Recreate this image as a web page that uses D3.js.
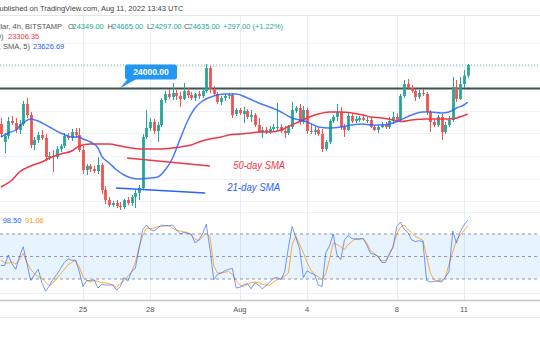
<!DOCTYPE html>
<html><head><meta charset="utf-8">
<script src="https://cdn.jsdelivr.net/npm/d3@7"></script>
<style>html,body{margin:0;padding:0;background:#fff;overflow:hidden}svg{display:block}text{font-family:"Liberation Sans",Arial,sans-serif}</style>
</head><body><svg id="c" width="540" height="340"></svg>
<script>
// ---- data (BTC/USD 4h, Bitstamp, Jul 21 - Aug 11 2022) ----
const opens = [23034,22545,22708,23116,23061,22871,23034,23578,23279,22463,
22599,22735,22654,22137,22164,22137,22354,22436,22708,22654,
22817,22735,22327,21783,21892,21810,21756,21919,21239,20967,
20831,20886,20804,20777,20967,20886,21049,21157,21294,22681,
22926,23089,22844,23007,23687,23850,23769,23877,23796,23714,
23932,23823,23741,23850,23796,23932,24557,23986,23850,23633,
23741,23796,23823,23306,23415,23306,23388,23225,23279,23007,
22817,22871,22817,22898,22926,22953,22844,22789,22953,23388,
23469,23089,23415,22844,22817,22871,22762,22354,22545,23116,
23225,23361,22953,22871,23252,23116,23143,23197,23116,23143,
22953,22871,22953,23007,22953,23116,23225,23143,23796,24122,
24014,23932,23769,23877,23850,23361,23089,23007,23225,22817,
23007,23143,24041,23714,24122,24349];
const highs = [23197,22789,23225,23252,23197,23143,23660,23741,23361,22681,
22817,22871,22762,22273,22327,22436,22490,22789,22789,22898,
22926,22926,22436,21946,21946,21892,22137,21973,21348,21049,
20940,20967,20913,20994,21049,21103,21239,21375,22762,23415,
23197,23170,23089,23741,23932,23986,24150,23959,23905,24150,
24014,23905,23877,23932,24014,24668,24612,24068,23905,23796,
23850,23877,23877,23469,23469,23497,23442,23415,23333,23197,
22953,22953,22980,23034,23605,23034,22980,23007,23633,23524,
23578,23524,23469,23034,22953,22926,22898,22599,23170,23279,
23578,23497,23034,23333,23333,23252,23252,23279,23225,23225,
23007,23007,23089,23089,23225,23361,23333,23850,24231,24258,
24095,23986,23959,23986,23905,23415,23170,23279,23306,23089,
23252,24313,24231,24313,24503,24665];
const lows = [22681,22246,22626,23007,22789,22762,22980,23197,22381,22327,
22518,22599,22028,22055,21729,22082,22273,22381,22599,22572,
22654,22273,21674,21647,21729,21702,21674,21130,20858,20777,
20777,20750,20695,20722,20831,20804,20750,20967,21239,22626,
22844,22762,22545,22953,23605,23714,23687,23687,23497,23687,
23741,23687,23660,23714,23741,23877,23877,23796,23578,23551,
23660,23714,23197,23252,23279,23061,23170,23089,22953,22789,
22654,22762,22762,22844,22844,22789,22654,22735,22898,23333,
23007,23034,22762,22762,22735,22708,22273,22300,22490,23061,
23116,22871,22681,22844,23061,23061,23089,23116,23061,22926,
22844,22789,22926,22898,22898,23034,23089,23116,23741,23959,
23877,23660,23714,23796,23279,22817,22953,22953,22599,22762,
22953,23089,23633,23687,24014,24297];
const closes = [22762,22708,23116,23061,22871,23034,23578,23279,22463,22599,
22735,22654,22137,22164,22137,22354,22436,22708,22654,22817,
22735,22327,21783,21892,21810,21756,21919,21239,20967,20831,
20886,20804,20777,20967,20886,21049,21157,21294,22681,22926,
23089,22844,23007,23687,23850,23769,23877,23796,23714,23932,
23823,23741,23850,23796,23932,24557,23986,23850,23633,23741,
23796,23823,23279,23415,23333,23388,23225,23279,23007,22817,
22871,22817,22898,22953,22953,22844,22789,22953,23415,23469,
23089,23415,22844,22817,22871,22762,22354,22545,23116,23225,
23361,22953,22871,23252,23116,23170,23197,23143,23143,22953,
22871,22953,23007,22953,23116,23225,23143,23796,24122,24014,
23932,23769,23877,23850,23361,23089,23007,23225,22817,23007,
23143,24041,23714,24122,24349,24635];

// 21 SMA (blue) and 50 SMA (red), read at candle indices
const sma21Idx = [0,2,4,6,8,10,13,16,18,19,21,22,24,26,27,29,31,33,35,37,40,42,44,46,48,50,52,54,57,60,63,66,69,74,78,82,85,88,91,94,97,99,102,105,107,110,113,115,118,120,122,124,125];
const sma21Val = [22681,22790,22871,23062,23170,23116,22953,22790,22708,22681,22681,22626,22545,22382,22164,21974,21784,21647,21566,21538,21566,21593,21783,22110,22626,23116,23469,23660,23796,23850,23850,23742,23606,23415,23198,23089,22953,22926,22953,23007,23034,23007,23007,23062,23143,23279,23361,23361,23334,23361,23470,23551,23627];
const sma50Idx = [0,3,5,8,11,13,16,19,21,24,27,29,32,35,37,43,48,51,53,56,59,61,64,67,69,72,75,77,80,83,85,88,91,94,97,99,102,105,107,110,114,118,120,122,125];
const sma50Val = [21321,21511,21729,21892,22001,22110,22218,22300,22436,22490,22490,22490,22436,22382,22354,22354,22409,22463,22545,22626,22681,22735,22762,22790,22817,22817,22871,22966,23102,23238,23306,23361,23361,23334,23279,23225,23198,23143,23102,23143,23170,23170,23170,23198,23306];

// Stochastic RSI %K (blue) and %D (orange), one per candle
const stochK = [38,38,52,40,33,50,63,40,18,26,
33,15,4,11,20,26,34,42,47,45,
45,30,10,18,18,19,8,13,12,12,
12,5,10,22,17,30,34,60,86,92,
86,84,88,92,91,91,92,86,80,82,
81,80,68,72,80,93,60,19,26,28,
31,33,34,8,9,12,14,7,15,12,
7,11,16,21,22,19,30,62,90,75,
60,22,31,28,26,12,10,55,64,80,
52,46,72,78,74,73,73,74,65,54,
53,50,42,42,54,62,90,96,86,82,
72,70,71,70,18,16,17,17,16,22,
30,84,68,83,92,98.5];
const stochD = [45,42,41,43,40,46,54,42,33,27,
23,21,16,11,15,21,27,33,39,42,
45,36,23,18,16,18,17,15,15,14,
12,9,14,18,24,29,42,62,78,88,
87,88,90,90,91,91,88,85,84,83,
82,78,73,71,76,81,76,38,28,28,
29,30,26,18,12,10,13,15,16,15,
13,12,12,16,19,21,24,28,66,77,
66,55,42,32,26,23,19,27,46,68,
66,63,59,66,70,74,74,74,68,58,
54,50,44,45,51,64,80,89,92,86,
82,77,74,72,50,28,19,18,18,22,
40,56,72,79,84,91.06];
const stochLevels = [80,50,20];

const dayLabels = ["25","28","Aug","4","8","11"];
const dayIdx = [22,40,64,82,106,124];

const levelPrice = 24000;
const levelLabel = "24000.00";
const sma50Label = "50-day SMA", sma21Label = "21-day SMA";
// hand-drawn trend-line labels (index, price)
const sma50Drawn = [[33.8,22110],[56,21892]];
const sma21Drawn = [[30.8,21294],[54.7,21157]];
const sma50TextAt = [62.2,21800];
const sma21TextAt = [60.6,21200];
const calloutAt = [31.9,24000];

const headerText = "Published on TradingView.com, Aug 11, 2022 13:43 UTC";
const symbolText = "Bitcoin / U.S. Dollar, 4h, BITSTAMP";
const ohlcLabels = ["O","H","L","C"];
const ohlcValues = ["24349.00","24665.00","24297.00","24635.00"];
const changeText = "+297.00 (+1.22%)";
const sma50Legend = ["SMA (50, close, 0)","23306.35"];
const sma21Legend = ["SMA (21, close, SMA, 5)","23626.69"];
const stochLegend = ["98.50","91.06"];

// ---- drawing ----
const svg = d3.select("#c");
const GREEN="#26a69a", RED="#ef5350", BLUE="#2962ff", SRED="#f23645", ORANGE="#ff9800";
const x = d3.scaleLinear().domain([0,125]).range([0.83,467.7]);
const y = d3.scaleLinear().domain([20500,25000]).range([217.2,51.7]);
const ys = d3.scaleLinear().domain([0,100]).range([294,219]);

svg.append("rect").attr("width",540).attr("height",340).attr("fill","#fff");

// price grid
const gridStep = 612;
const gridLevels = d3.range(-6,3).map(k=>levelPrice+k*gridStep).filter(p=>y(p)>18 && y(p)<210);
svg.selectAll(".hg").data(gridLevels).enter().append("line")
  .attr("x1",0).attr("x2",540).attr("y1",d=>Math.round(y(d))+0.5).attr("y2",d=>Math.round(y(d))+0.5)
  .attr("stroke","#eef1f6").attr("stroke-width",1);
// day grid
svg.selectAll(".vg").data(dayIdx).enter().append("line")
  .attr("x1",d=>Math.round(x(d))+0.5).attr("x2",d=>Math.round(x(d))+0.5).attr("y1",15).attr("y2",300)
  .attr("stroke","#e9eef4").attr("stroke-width",1);
// separators
svg.append("line").attr("x1",0).attr("x2",540).attr("y1",15.5).attr("y2",15.5).attr("stroke","#e3e6ec");
svg.append("line").attr("x1",0).attr("x2",540).attr("y1",212.5).attr("y2",212.5).attr("stroke","#eceff3");

// stoch pane band and levels
svg.append("rect").attr("x",0).attr("width",540).attr("y",ys(80)).attr("height",ys(20)-ys(80))
  .attr("fill","rgba(33,150,243,0.11)");
svg.selectAll(".sl").data(stochLevels).enter().append("line")
  .attr("x1",0).attr("x2",540).attr("y1",d=>ys(d)).attr("y2",d=>ys(d))
  .attr("stroke","#9598a1").attr("stroke-width",1).attr("stroke-dasharray","3,3");
svg.append("line").attr("x1",0).attr("x2",540).attr("y1",ys(0)-0.5).attr("y2",ys(0)-0.5).attr("stroke","#eef0f4");
svg.append("line").attr("x1",0).attr("x2",540).attr("y1",300.5).attr("y2",300.5).attr("stroke","#c3c6cc").attr("stroke-width",1.6);
svg.append("line").attr("x1",0).attr("x2",540).attr("y1",317.5).attr("y2",317.5).attr("stroke","#e6e8ec");

// day labels
svg.selectAll(".dl").data(dayIdx).enter().append("text")
  .attr("x",d=>x(d)).attr("y",312).attr("text-anchor","middle")
  .attr("font-size",7.5).attr("fill","#50535e").text((d,i)=>dayLabels[i]);

// 24000 level line
svg.append("line").attr("x1",0).attr("x2",540).attr("y1",y(levelPrice)).attr("y2",y(levelPrice))
  .attr("stroke","#3e5450").attr("stroke-width",2);
// last price dotted line
svg.append("line").attr("x1",0).attr("x2",540).attr("y1",y(closes[closes.length-1])).attr("y2",y(closes[closes.length-1]))
  .attr("stroke",GREEN).attr("stroke-width",1).attr("stroke-dasharray","1,2").attr("opacity",0.7);

// candles
const idx = d3.range(closes.length);
const cg = svg.append("g");
cg.selectAll(".w").data(idx).enter().append("line")
  .attr("x1",i=>Math.round(x(i))+0.5).attr("x2",i=>Math.round(x(i))+0.5)
  .attr("y1",i=>y(highs[i])).attr("y2",i=>y(lows[i]))
  .attr("stroke",i=>closes[i]>=opens[i]?GREEN:RED).attr("stroke-width",1);
cg.selectAll(".b").data(idx).enter().append("rect")
  .attr("x",i=>Math.round(x(i))+0.5-1.4).attr("width",2.8)
  .attr("y",i=>y(Math.max(opens[i],closes[i])))
  .attr("height",i=>Math.max(1,Math.abs(y(opens[i])-y(closes[i]))))
  .attr("fill",i=>closes[i]>=opens[i]?GREEN:RED);

// SMAs
const lineGen = d3.line().x(d=>x(d[0])).y(d=>y(d[1])).curve(d3.curveMonotoneX);
svg.append("path").attr("d",lineGen(sma50Idx.map((d,i)=>[d,sma50Val[i]])))
  .attr("fill","none").attr("stroke",SRED).attr("stroke-width",1.5);
svg.append("path").attr("d",lineGen(sma21Idx.map((d,i)=>[d,sma21Val[i]])))
  .attr("fill","none").attr("stroke",BLUE).attr("stroke-width",1.5).attr("opacity",0.85);

// drawn trend-line labels
svg.append("line").attr("x1",x(sma50Drawn[0][0])).attr("y1",y(sma50Drawn[0][1]))
  .attr("x2",x(sma50Drawn[1][0])).attr("y2",y(sma50Drawn[1][1])).attr("stroke",SRED).attr("stroke-width",1.5);
svg.append("line").attr("x1",x(sma21Drawn[0][0])).attr("y1",y(sma21Drawn[0][1]))
  .attr("x2",x(sma21Drawn[1][0])).attr("y2",y(sma21Drawn[1][1])).attr("stroke",BLUE).attr("stroke-width",1.5);
svg.append("text").attr("x",x(sma50TextAt[0])).attr("y",y(sma50TextAt[1])).attr("font-size",10)
  .attr("font-style","italic").attr("fill",SRED).attr("textLength",52).attr("lengthAdjust","spacingAndGlyphs").text(sma50Label);
svg.append("text").attr("x",x(sma21TextAt[0])).attr("y",y(sma21TextAt[1])).attr("font-size",10)
  .attr("font-style","italic").attr("fill",BLUE).attr("textLength",53).attr("lengthAdjust","spacingAndGlyphs").text(sma21Label);

// callout
const ax = x(calloutAt[0]), ay = y(calloutAt[1]);
const cgp = svg.append("g");
cgp.append("path").attr("d",`M${ax},${ay} L${ax+8},${ay-10} L${ax+17},${ay-10} Z`).attr("fill","#2196f3");
cgp.append("rect").attr("x",ax+5).attr("y",ay-24).attr("width",52).attr("height",15).attr("rx",2.5).attr("fill","#2196f3");
cgp.append("text").attr("x",ax+31).attr("y",ay-13.5).attr("text-anchor","middle").attr("font-size",8.5)
  .attr("font-weight","bold").attr("fill","#fff").text(levelLabel);

// stoch lines
const sLine = d3.line().x((d,i)=>x(i)).y(d=>ys(d));
svg.append("path").attr("d",sLine(stochD)).attr("fill","none").attr("stroke",ORANGE).attr("stroke-width",1).attr("opacity",0.8);
svg.append("path").attr("d",sLine(stochK)).attr("fill","none").attr("stroke",BLUE).attr("stroke-width",1).attr("opacity",0.65);

// header & legends
svg.append("text").attr("x",-5.5).attr("y",11).attr("font-size",7.6).attr("fill","#444")
  .attr("textLength",189).attr("lengthAdjust","spacingAndGlyphs").text(headerText);
svg.append("text").attr("x",62).attr("y",28.5).attr("text-anchor","end").attr("font-size",7.5).attr("fill","#555").text(symbolText);
const lx=[68,107.5,147,184], vx=[72.5,112,150.5,188.5];
ohlcLabels.forEach((l,i)=>{
  svg.append("text").attr("x",lx[i]).attr("y",28.5).attr("font-size",7.5).attr("fill","#555").text(l);
  svg.append("text").attr("x",vx[i]).attr("y",28.5).attr("font-size",7.5).attr("fill",GREEN).text(ohlcValues[i]);
});
svg.append("text").attr("x",223).attr("y",28.5).attr("font-size",7.5).attr("fill",GREEN).text(changeText);
svg.append("text").attr("x",3.5).attr("y",38.5).attr("text-anchor","end").attr("font-size",7.5).attr("fill","#555").text(sma50Legend[0]);
svg.append("text").attr("x",8).attr("y",38.5).attr("font-size",7.5).attr("fill",SRED).text(sma50Legend[1]);
svg.append("text").attr("x",30).attr("y",48.5).attr("text-anchor","end").attr("font-size",7.5).attr("fill","#555").text(sma21Legend[0]);
svg.append("text").attr("x",33).attr("y",48.5).attr("font-size",7.5).attr("fill",BLUE).text(sma21Legend[1]);
svg.append("text").attr("x",2.7).attr("y",222.5).attr("font-size",7.5).attr("fill",BLUE).text(stochLegend[0]);
svg.append("text").attr("x",25).attr("y",222.5).attr("font-size",7.5).attr("fill",ORANGE).text(stochLegend[1]);
</script></body></html>
